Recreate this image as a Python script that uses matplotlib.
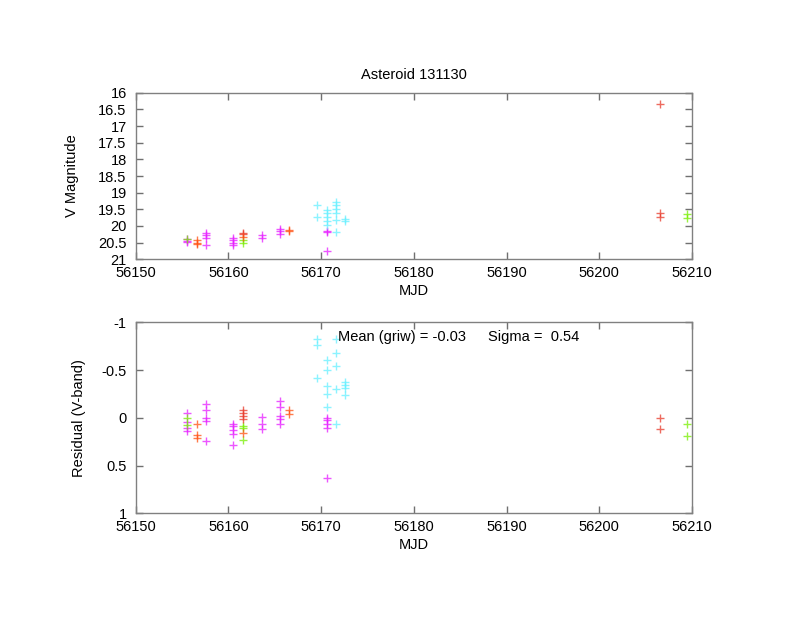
import numpy as np
import matplotlib.pyplot as plt

plt.rcParams['font.family'] = ['Liberation Sans', 'DejaVu Sans']
plt.rcParams['font.size'] = 10.5

# Top panel: V magnitude per filter colour
mag_magenta_t = [56155.57, 56155.57, 56155.57, 56157.58, 56157.58, 56157.58, 56157.58,
                 56160.53, 56160.53, 56160.53, 56160.53, 56163.59, 56163.59,
                 56165.57, 56165.57, 56165.57, 56170.6, 56170.6, 56170.6]
mag_magenta_v = [20.38, 20.45, 20.48, 20.2, 20.27, 20.37, 20.58,
                 20.35, 20.42, 20.5, 20.58, 20.28, 20.35,
                 20.08, 20.15, 20.25, 20.15, 20.18, 20.75]
mag_green_t = [56155.57, 56161.6, 56161.6, 56209.5, 56209.5]
mag_green_v = [20.4, 20.42, 20.5, 19.65, 19.77]
mag_red_t = [56161.6, 56161.6, 56206.56, 56206.56, 56206.56]
mag_red_v = [20.2, 20.24, 16.34, 19.62, 19.73]
mag_orange_t = [56156.58, 56156.58, 56156.58, 56161.6, 56166.57, 56166.57]
mag_orange_v = [20.42, 20.5, 20.55, 20.32, 20.12, 20.15]
mag_cyan_t = [56169.6, 56169.6, 56170.6, 56170.6, 56170.6, 56170.6, 56170.6,
              56171.6, 56171.6, 56171.6, 56171.6, 56171.6, 56171.6, 56172.6, 56172.6]
mag_cyan_v = [19.37, 19.72, 19.52, 19.62, 19.72, 19.85, 19.97,
              19.27, 19.37, 19.5, 19.6, 19.82, 20.19, 19.78, 19.85]

# Bottom panel: residuals
res_magenta_t = [56155.57, 56155.57, 56155.57, 56155.57,
                 56157.58, 56157.58, 56157.58, 56157.58, 56157.58,
                 56160.53, 56160.53, 56160.53, 56160.53, 56160.53,
                 56163.59, 56163.59, 56163.59,
                 56165.57, 56165.57, 56165.57, 56165.57, 56165.57,
                 56170.6, 56170.6, 56170.6, 56170.6, 56170.6]
res_magenta_v = [-0.05, 0.04, 0.11, 0.135,
                 -0.14, -0.08, 0.005, 0.03, 0.24,
                 0.06, 0.09, 0.13, 0.17, 0.29,
                 -0.005, 0.065, 0.12,
                 -0.175, -0.11, -0.02, 0.01, 0.06,
                 0.0, 0.02, 0.06, 0.11, 0.635]
res_green_t = [56155.57, 56155.57, 56161.6, 56161.6, 56161.6, 56209.5, 56209.5]
res_green_v = [0.005, 0.075, 0.09, 0.11, 0.23, 0.07, 0.19]
res_red_t = [56161.6, 56161.6, 56161.6, 56161.6, 56206.56, 56206.56]
res_red_v = [-0.08, -0.05, -0.02, 0.01, 0.0, 0.117]
res_orange_t = [56156.58, 56156.58, 56156.58, 56161.6, 56166.57, 56166.57]
res_orange_v = [0.065, 0.18, 0.215, 0.155, -0.08, -0.04]
res_cyan_t = [56169.6, 56169.6, 56169.6,
              56170.6, 56170.6, 56170.6, 56170.6, 56170.6,
              56171.6, 56171.6, 56171.6, 56171.6, 56171.6,
              56172.6, 56172.6, 56172.6, 56172.6]
res_cyan_v = [-0.82, -0.76, -0.42,
              -0.605, -0.5, -0.33, -0.25, -0.11,
              -0.82, -0.675, -0.545, -0.30, 0.06,
              -0.38, -0.34, -0.31, -0.24]

colors = {'magenta': '#e61eff', 'green': '#77ee00', 'red': '#e83a2a',
          'orange': '#ff5010', 'cyan': '#66f0ff'}

fig = plt.figure(figsize=(8, 6.18), dpi=100)
ax1 = fig.add_axes([0.1696, 0.5804, 0.6954, 0.2696])
ax2 = fig.add_axes([0.1696, 0.1694, 0.6954, 0.3091])

top = [(mag_magenta_t, mag_magenta_v, 'magenta'), (mag_green_t, mag_green_v, 'green'),
       (mag_red_t, mag_red_v, 'red'), (mag_orange_t, mag_orange_v, 'orange'),
       (mag_cyan_t, mag_cyan_v, 'cyan')]
bottom = [(res_magenta_t, res_magenta_v, 'magenta'), (res_green_t, res_green_v, 'green'),
          (res_red_t, res_red_v, 'red'), (res_orange_t, res_orange_v, 'orange'),
          (res_cyan_t, res_cyan_v, 'cyan')]

for t, v, c in top:
    ax1.plot(t, v, '+', color=colors[c], ms=5.5, mew=1.0, alpha=0.75)
for t, v, c in bottom:
    ax2.plot(t, v, '+', color=colors[c], ms=5.5, mew=1.0, alpha=0.75)

ax1.set_xlim(56150, 56210)
ax1.set_ylim(21, 16)
ax1.set_yticks(np.arange(16, 21.01, 0.5))
ax1.set_yticklabels(['16', '16.5', '17', '17.5', '18', '18.5', '19', '19.5', '20', '20.5', '21'])
ax1.set_title('Asteroid 131130', fontsize=10.5, pad=10)
ax1.set_xlabel('MJD', labelpad=3)
ax1.set_ylabel('V Magnitude', labelpad=14)

ax2.set_xlim(56150, 56210)
ax2.set_ylim(1, -1)
ax2.set_yticks([-1, -0.5, 0, 0.5, 1])
ax2.set_yticklabels(['-1', '-0.5', '0', '0.5', '1'])
ax2.set_xlabel('MJD', labelpad=3)
ax2.set_ylabel('Residual (V-band)', labelpad=11)
ax2.text(56171.8, -0.85, 'Mean (griw) = -0.03', va='center')
ax2.text(56188.0, -0.85, 'Sigma =  0.54', va='center')

for ax in (ax1, ax2):
    ax.set_xticks(np.arange(56150, 56211, 10))
    ax.tick_params(direction='in', top=True, right=True, length=5,
                   color='#707070', width=1)
    ax.tick_params(axis='x', pad=5)
    ax.tick_params(axis='y', pad=6.5)
    for s in ax.spines.values():
        s.set_color('#808080')
        s.set_linewidth(1)

fig.savefig('out.png', dpi=100)
